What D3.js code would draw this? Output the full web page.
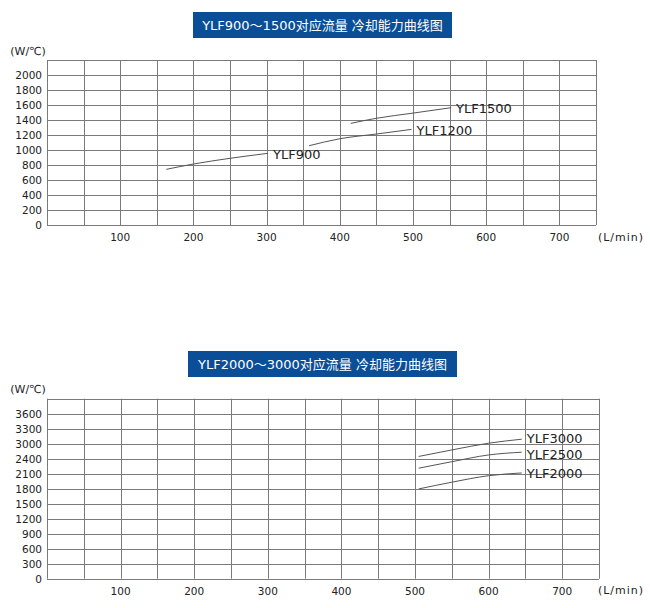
<!DOCTYPE html>
<html>
<head>
<meta charset="utf-8">
<script src="https://cdn.jsdelivr.net/npm/d3@7/dist/d3.min.js"></script>
<style>
  html, body { margin: 0; padding: 0; background: #fff; }
  svg { display: block; }
  text { font-family: "DejaVu Sans", Verdana, "Noto Sans CJK SC", sans-serif; fill: #222; }
</style>
</head>
<body>
<svg id="chart" width="650" height="608"></svg>
<script>
// ---------- data ----------
const xTickLabels = [100, 200, 300, 400, 500, 600, 700];
const xGridValues = d3.range(0, 751, 50);

// Chart 1: YLF900~1500
const title1 = "YLF900～1500对应流量 冷却能力曲线图";
const yTicks1 = [0, 200, 400, 600, 800, 1000, 1200, 1400, 1600, 1800, 2000];
const ylf900Flow = [163, 200, 250, 302];
const ylf900Cap = [742, 813, 889, 956];
const ylf1200Flow = [358, 400, 450, 498];
const ylf1200Cap = [1057, 1150, 1213, 1275];
const ylf1500Flow = [415, 450, 500, 552];
const ylf1500Cap = [1355, 1423, 1492, 1564];

// Chart 2: YLF2000~3000
const title2 = "YLF2000～3000对应流量 冷却能力曲线图";
const yTicks2 = [0, 300, 600, 900, 1200, 1500, 1800, 2100, 2400, 3000, 3300, 3600];
const ylf2000Flow = [505, 550, 600, 645];
const ylf2000Cap = [1795, 1930, 2060, 2115];
const ylf2500Flow = [505, 550, 600, 645];
const ylf2500Cap = [2210, 2340, 2550, 2660];
const ylf3000Flow = [505, 550, 600, 645];
const ylf3000Cap = [2490, 2750, 3010, 3090];

const yUnit = "(W/℃)";
const xUnit = "(L/min)";

// ---------- drawing ----------
const svg = d3.select("#chart");

function drawChart(cfg) {
  const g = svg.append("g");
  const x = d3.scaleLinear().domain([0, 750]).range([cfg.left, cfg.right]);
  // y: grid rows evenly spaced per tick label (piecewise linear), one extra row on top
  const yDomain = cfg.yTicks.concat([cfg.yTop]);
  const y = d3.scaleLinear()
    .domain(yDomain)
    .range(yDomain.map((d, i) => cfg.bottom - i * cfg.rowH));
  const top = y(cfg.yTop);

  // title box
  const tb = g.append("g");
  tb.append("rect")
    .attr("x", cfg.titleX).attr("y", cfg.titleY)
    .attr("width", cfg.titleW).attr("height", 26)
    .attr("fill", "#0a4e97");
  tb.append("text")
    .attr("x", cfg.titleX + cfg.titleW / 2).attr("y", cfg.titleY + 13)
    .attr("text-anchor", "middle").attr("dominant-baseline", "central")
    .style("font-size", "13px").style("fill", "#fff")
    .text(cfg.title);

  // grid
  g.append("g").selectAll("line.h")
    .data(yDomain).join("line")
    .attr("x1", cfg.left).attr("x2", cfg.right)
    .attr("y1", d => Math.round(y(d)) + 0.5).attr("y2", d => Math.round(y(d)) + 0.5)
    .attr("stroke", "#7a7a7a").attr("stroke-width", 1);
  g.append("g").selectAll("line.v")
    .data(xGridValues).join("line")
    .attr("x1", d => Math.round(x(d)) + 0.5).attr("x2", d => Math.round(x(d)) + 0.5)
    .attr("y1", top).attr("y2", cfg.bottom)
    .attr("stroke", "#7a7a7a").attr("stroke-width", 1);

  // y tick labels
  g.append("g").selectAll("text")
    .data(cfg.yTicks).join("text")
    .attr("x", cfg.left - 5).attr("y", d => y(d))
    .attr("text-anchor", "end").attr("dominant-baseline", "central")
    .style("font-size", "10.5px")
    .text(d => d);

  // x tick labels
  g.append("g").selectAll("text")
    .data(xTickLabels).join("text")
    .attr("x", d => x(d)).attr("y", cfg.bottom + 12)
    .attr("text-anchor", "middle").attr("dominant-baseline", "central")
    .style("font-size", "10.5px")
    .text(d => d);

  // units
  g.append("text")
    .attr("x", 28).attr("y", top - 9)
    .attr("text-anchor", "middle").attr("dominant-baseline", "central")
    .style("font-size", "11px")
    .text(yUnit);
  g.append("text")
    .attr("x", 621).attr("y", cfg.bottom + 12)
    .attr("text-anchor", "middle").attr("dominant-baseline", "central")
    .style("font-size", "11px").style("letter-spacing", "1px")
    .text(xUnit);

  // curves
  const line = d3.line()
    .x(d => x(d[0])).y(d => y(d[1]))
    .curve(d3.curveMonotoneX);
  cfg.series.forEach(s => {
    const pts = s.flow.map((f, i) => [f, s.cap[i]]);
    g.append("path")
      .attr("d", line(pts))
      .attr("fill", "none")
      .attr("stroke", "#555")
      .attr("stroke-width", 1);
    const last = pts[pts.length - 1];
    g.append("text")
      .attr("x", x(last[0]) + 5).attr("y", y(last[1]) + 1 + (s.dy || 0))
      .attr("dominant-baseline", "central")
      .style("font-size", "13px")
      .text(s.name);
  });
}

drawChart({
  title: title1, titleX: 193, titleY: 12, titleW: 259,
  left: 47, right: 596, bottom: 225, rowH: 15,
  yTicks: yTicks1, yTop: 2200,
  series: [
    { name: "YLF900", flow: ylf900Flow, cap: ylf900Cap },
    { name: "YLF1200", flow: ylf1200Flow, cap: ylf1200Cap },
    { name: "YLF1500", flow: ylf1500Flow, cap: ylf1500Cap }
  ]
});

drawChart({
  title: title2, titleX: 188, titleY: 351, titleW: 269,
  left: 47, right: 599, bottom: 578.7, rowH: 15,
  yTicks: yTicks2, yTop: 3900,
  series: [
    { name: "YLF2000", flow: ylf2000Flow, cap: ylf2000Cap },
    { name: "YLF2500", flow: ylf2500Flow, cap: ylf2500Cap, dy: 1.5 },
    { name: "YLF3000", flow: ylf3000Flow, cap: ylf3000Cap, dy: -1.5 }
  ]
});
</script>
</body>
</html>
